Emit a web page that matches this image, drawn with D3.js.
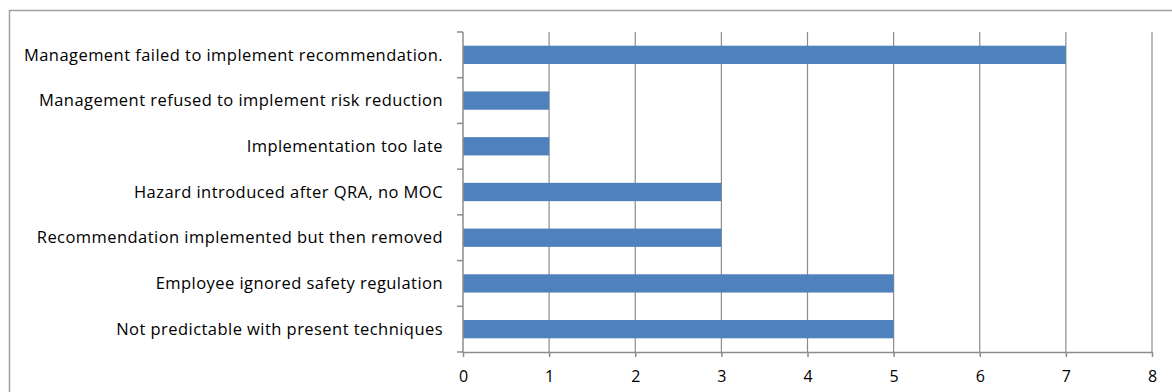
<!DOCTYPE html>
<html lang="en">
<head>
<meta charset="utf-8" />
<title>Causes</title>
<script src="https://d3js.org/d3.v7.min.js"></script>
<style>
  body { margin: 0; background: #fff; }
  text { font-family: "Open Sans", sans-serif; fill: #000; }
</style>
</head>
<body>
<script>
// chart data (top to bottom)
var categories = [
  "Management failed to implement recommendation.",
  "Management refused to implement risk reduction",
  "Implementation too late",
  "Hazard introduced after QRA, no MOC",
  "Recommendation implemented but then removed",
  "Employee ignored safety regulation",
  "Not predictable with present techniques"
];
var counts = [7, 1, 1, 3, 3, 5, 5];
var xTicks = [0, 1, 2, 3, 4, 5, 6, 7, 8];

var W = 1172, H = 392;
var plotLeft = 463, plotRight = 1152, plotTop = 32, plotBottom = 352;

var svg = d3.select("body").append("svg")
  .attr("width", W).attr("height", H);

// outer frame (right and bottom edges fall outside the picture)
svg.append("rect")
  .attr("x", 9.5).attr("y", 10.5)
  .attr("width", 1180).attr("height", 400)
  .attr("fill", "none").attr("stroke", "#a0a0a0").attr("stroke-width", 1.5);

var x = d3.scaleLinear().domain([0, 8]).range([plotLeft, plotRight]);
var y = d3.scaleBand().domain(categories).range([plotTop, plotBottom])
  .paddingInner(0.6).paddingOuter(0.3);

// vertical gridlines
svg.append("g").selectAll("line")
  .data(xTicks.slice(1))
  .enter().append("line")
  .attr("x1", function(d){ return x(d); })
  .attr("x2", function(d){ return x(d); })
  .attr("y1", plotTop).attr("y2", plotBottom)
  .attr("stroke", "#8c8c8c").attr("stroke-width", 1.2);

// bars
svg.append("g").selectAll("rect")
  .data(categories)
  .enter().append("rect")
  .attr("x", x(0))
  .attr("y", function(d){ return y(d); })
  .attr("width", function(d, i){ return x(counts[i]) - x(0); })
  .attr("height", y.bandwidth())
  .attr("fill", "#4f81bd");

// x axis
var xAxis = svg.append("g")
  .attr("transform", "translate(0," + plotBottom + ")")
  .call(d3.axisBottom(x).tickValues(xTicks).tickSizeInner(5).tickSizeOuter(0).tickPadding(14));
xAxis.select(".domain").attr("stroke", "#8c8c8c").attr("stroke-width", 1.5);
xAxis.selectAll(".tick line").attr("stroke", "#8c8c8c").attr("stroke-width", 1.5);
xAxis.selectAll("text").style("font-size", "16px").style("font-family", "Open Sans, sans-serif");

// y axis: ticks sit between categories
var yAxisG = svg.append("g");
yAxisG.append("line")
  .attr("x1", plotLeft).attr("x2", plotLeft).attr("y1", plotTop).attr("y2", plotBottom)
  .attr("stroke", "#8c8c8c").attr("stroke-width", 1.5);
var step = (plotBottom - plotTop) / categories.length;
yAxisG.selectAll("line.tk")
  .data(d3.range(categories.length + 1))
  .enter().append("line").attr("class", "tk")
  .attr("x1", plotLeft - 6).attr("x2", plotLeft)
  .attr("y1", function(d){ return plotTop + d * step; })
  .attr("y2", function(d){ return plotTop + d * step; })
  .attr("stroke", "#8c8c8c").attr("stroke-width", 1.5);

yAxisG.selectAll("text")
  .data(categories)
  .enter().append("text")
  .attr("x", 443)
  .attr("y", function(d){ return y(d) + y.bandwidth() / 2; })
  .attr("text-anchor", "end")
  .attr("dy", "0.35em")
  .style("font-size", "16.5px")
  .style("letter-spacing", "0.45px")
  .text(function(d){ return d; });
</script>
</body>
</html>
